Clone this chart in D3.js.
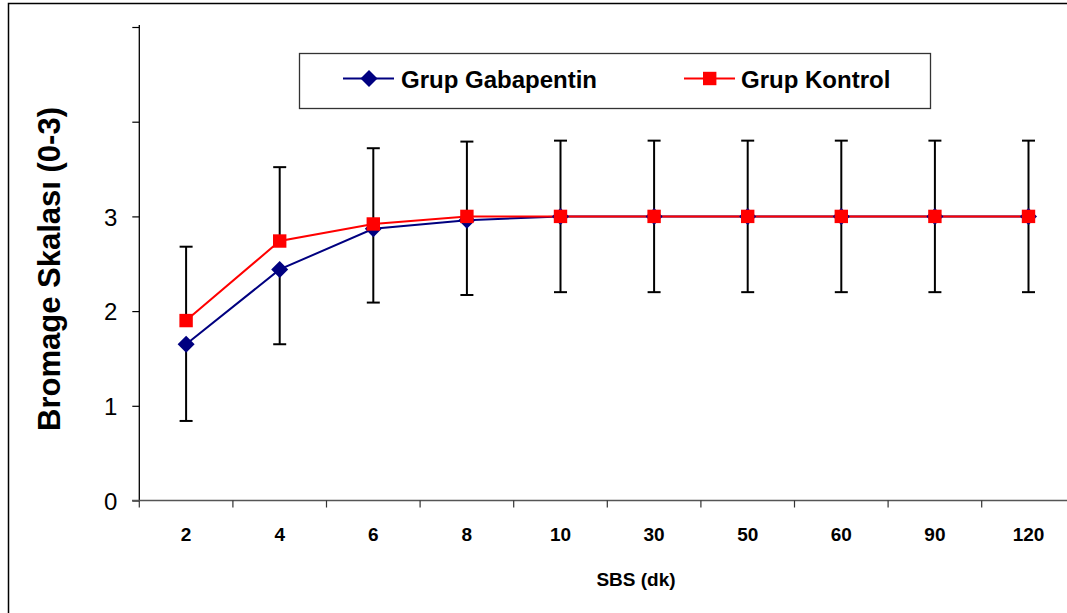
<!DOCTYPE html>
<html><head><meta charset="utf-8">
<script src="https://cdn.jsdelivr.net/npm/d3@7"></script>
<style>body{margin:0;background:#fff}svg{display:block}text{font-family:Arial,"Liberation Sans",sans-serif}</style>
</head><body><div id="c"></div>
<script>
const categories = ["2","4","6","8","10","30","50","60","90","120"];
const gabapentin = [1.65,2.44,2.87,2.96,3,3,3,3,3,3];
const kontrol    = [1.90,2.74,2.92,3.0,3,3,3,3,3,3];
const gabMinusSD = [0.81,0.79,0.78,0.79,0.80,0.80,0.80,0.80,0.80,0.80];
const kontrolPlusSD = [0.78,0.78,0.80,0.79,0.80,0.80,0.80,0.80,0.80,0.80];
const yTicks = [0,1,2,3,4,5];
const yTickLabels = ["0","1","2","3","",""];
const seriesNames = ["Grup Gabapentin","Grup Kontrol"];

const W=1067,H=613;
const svg=d3.select("#c").append("svg").attr("width",W).attr("height",H);
// outer frame
svg.append("rect").attr("x",8.5).attr("y",3.5).attr("width",1080).attr("height",640)
  .attr("fill","none").attr("stroke","#000").attr("stroke-width",1.5);

const x=d3.scaleBand().domain(categories).range([139.3,1075.3]);
const y=d3.scaleLinear().domain([0,5]).range([500.5,27]);
const cx=c=>x(c)+x.bandwidth()/2;

// y axis
const ya=svg.append("g").attr("transform","translate(139.3,0)")
  .call(d3.axisLeft(y).tickValues(yTicks).tickFormat((d,i)=>yTickLabels[i]).tickSize(7).tickPadding(15));
ya.select(".domain").attr("stroke","#000").attr("stroke-width",1.3).attr("d","M0,25V500.5");
ya.selectAll(".tick line").attr("stroke","#000").attr("stroke-width",1.2);
ya.selectAll(".tick text").attr("font-size",24).attr("fill","#000").attr("font-family","Arial, 'Liberation Sans', sans-serif").attr("dy","0.36em");

// x axis
const xa=svg.append("g").attr("transform","translate(0,500.5)")
  .call(d3.axisBottom(x).tickSize(0).tickPadding(0));
xa.select(".domain").attr("stroke","#555").attr("stroke-width",1.5).attr("d","M132,0H1075");
xa.selectAll(".tick text").attr("font-size",19).attr("font-weight","bold").attr("fill","#000")
  .attr("font-family","Arial, 'Liberation Sans', sans-serif").attr("y",40).attr("dy",0);
// boundary ticks between categories
const bounds=categories.map(c=>x(c)).concat([x.range()[1]]);
svg.append("g").selectAll("line").data(bounds.slice(0,-1)).join("line")
  .attr("x1",d=>d).attr("x2",d=>d).attr("y1",500.5).attr("y2",507.5)
  .attr("stroke","#333").attr("stroke-width",1.2);

// axis titles
svg.append("text").attr("transform","translate(60,269) rotate(-90)").attr("text-anchor","middle")
  .attr("font-size",31).attr("font-weight","bold").text("Bromage Skalası (0-3)");
svg.append("text").attr("x",636).attr("y",585.5).attr("text-anchor","middle")
  .attr("font-size",19).attr("font-weight","bold").text("SBS (dk)");

// error bars
const eb=svg.append("g").attr("stroke","#000").attr("stroke-width",2);
categories.forEach((c,i)=>{
  const px=cx(c), top=y(kontrol[i]+kontrolPlusSD[i]), bot=y(gabapentin[i]-gabMinusSD[i]);
  eb.append("line").attr("x1",px).attr("x2",px).attr("y1",top).attr("y2",y(kontrol[i]));
  eb.append("line").attr("x1",px).attr("x2",px).attr("y1",y(gabapentin[i])).attr("y2",bot);
  eb.append("line").attr("x1",px-6.5).attr("x2",px+6.5).attr("y1",top).attr("y2",top);
  eb.append("line").attr("x1",px-6.5).attr("x2",px+6.5).attr("y1",bot).attr("y2",bot);
});

// lines
const line=d3.line().x((d,i)=>cx(categories[i])).y(d=>y(d));
svg.append("path").datum(gabapentin).attr("d",line).attr("fill","none").attr("stroke","#000080").attr("stroke-width",2);
svg.append("path").datum(kontrol).attr("d",line).attr("fill","none").attr("stroke","#ff0000").attr("stroke-width",2);

// markers
const diamond=(px,py,r)=>`M${px},${py-r}L${px+r},${py}L${px},${py+r}L${px-r},${py}Z`;
svg.append("g").selectAll("path").data(gabapentin).join("path")
  .attr("d",(d,i)=>diamond(cx(categories[i]),y(d),8.5)).attr("fill","#000080");
svg.append("g").selectAll("rect").data(kontrol).join("rect")
  .attr("x",(d,i)=>cx(categories[i])-6.7).attr("y",d=>y(d)-6.7).attr("width",13.4).attr("height",13.4).attr("fill","#ff0000");

// legend
const lg=svg.append("g");
lg.append("rect").attr("x",299.5).attr("y",53.5).attr("width",631).attr("height",55)
  .attr("fill","#fff").attr("stroke","#333").attr("stroke-width",1.3);
lg.append("line").attr("x1",343).attr("x2",394).attr("y1",78.5).attr("y2",78.5).attr("stroke","#000080").attr("stroke-width",2);
lg.append("path").attr("d",diamond(369,78.5,8.5)).attr("fill","#000080");
lg.append("text").attr("x",401).attr("y",87.5).attr("font-size",24).attr("font-weight","bold").text(seriesNames[0]);
lg.append("line").attr("x1",684).attr("x2",735).attr("y1",78.5).attr("y2",78.5).attr("stroke","#ff0000").attr("stroke-width",2);
lg.append("rect").attr("x",703).attr("y",71.8).attr("width",13.4).attr("height",13.4).attr("fill","#ff0000");
lg.append("text").attr("x",741).attr("y",87.5).attr("font-size",24).attr("font-weight","bold").text(seriesNames[1]);
</script></body></html>
